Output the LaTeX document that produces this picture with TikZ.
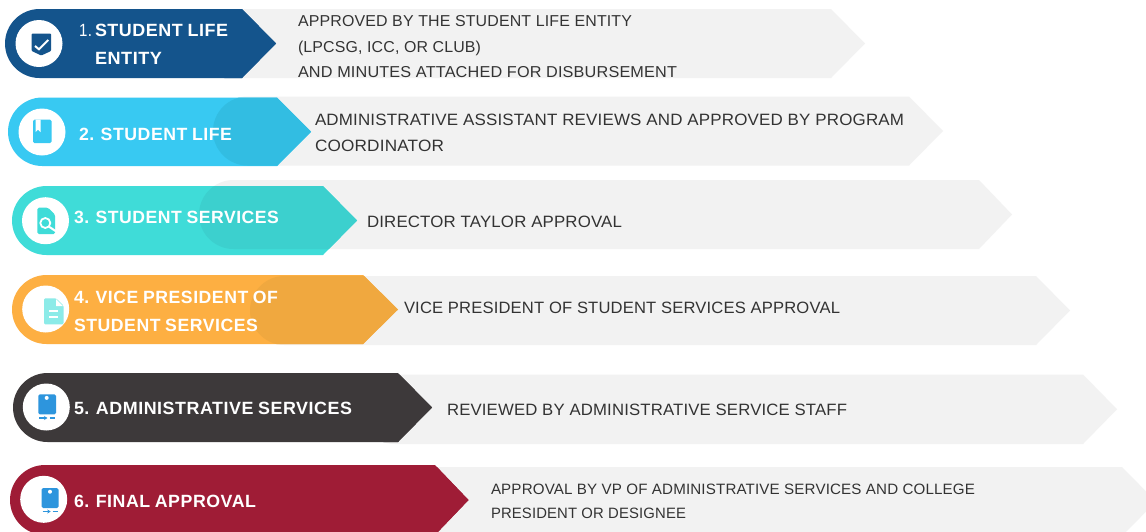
\documentclass[tikz,border=0pt]{standalone}
\usepackage{graphicx}
\usepackage{fontspec}
\usetikzlibrary{arrows.meta}
\setmainfont{Liberation Sans}
\newfontfamily\labfont[LetterSpace=3,WordSpace=0.85]{Liberation Sans}
\newfontfamily\bodyfont[LetterSpace=1]{Liberation Sans}
\definecolor{greyband}{HTML}{F2F2F2}
\definecolor{bodyink}{HTML}{333333}
\definecolor{cNavy}{HTML}{14548C}
\definecolor{cSky}{HTML}{38C9F2}
\definecolor{oSky}{HTML}{32BDE2}
\definecolor{cTeal}{HTML}{3FDCD8}
\definecolor{oTeal}{HTML}{3CD0CE}
\definecolor{cOrange}{HTML}{FDAF42}
\definecolor{oOrange}{HTML}{F0A83F}
\definecolor{cDark}{HTML}{3D393A}
\definecolor{cRed}{HTML}{9F1C36}
\definecolor{iconBlue}{HTML}{2D95DD}
\definecolor{iconPale}{HTML}{8CEBE8}
\newcommand\fitw[2]{\resizebox{#1pt}{\height}{#2}}
\newcommand\mkpath[6]{%
  \pgfmathsetmacro\rr{(#4-#3)/2}%
  \pgfmathsetmacro\kk{0.55*\rr}%
  \pgfmathsetmacro\mm{(#3+#4)/2}%
  \pgfmathsetmacro\aa{#2+\rr}%
  \pgfmathsetmacro\bb{#2+\rr-\kk}%
  \pgfmathsetmacro\cc{\mm-\kk}%
  \pgfmathsetmacro\dd{\mm+\kk}%
  \edef#1{(\aa,#3) -- (#5,#3) -- (#6,\mm) -- (#5,#4) -- (\aa,#4)
    .. controls (\bb,#4) and (#2,\dd) .. (#2,\mm)
    .. controls (#2,\cc) and (\bb,#3) .. (\aa,#3) -- cycle}%
}
\newcommand\band[2]{%
  \fill[greyband] \greyp;
  \fill[#1] \colp;
  \begin{scope}
    \clip \colp;
    \fill[#2] \greyp;
  \end{scope}
}
\tikzset{
  lab/.style={anchor=base west,inner sep=0pt,outer sep=0pt,text=white,font=\labfont\bfseries\fontsize{17.7}{20}\selectfont},
  labthin/.style={lab,font=\labfont\fontsize{17.7}{20}\selectfont},
  body/.style={anchor=base west,inner sep=0pt,outer sep=0pt,text=bodyink,font=\bodyfont\fontsize{16.4}{19}\selectfont},
  bodyone/.style={body,font=\bodyfont\fontsize{15.8}{19}\selectfont},
  bodysix/.style={body,font=\bodyfont\fontsize{15}{17}\selectfont},
  disc/.style={circle,fill=white,minimum size=47pt,inner sep=0pt,outer sep=0pt}
}
\begin{document}
\begin{tikzpicture}[x=1pt,y=-1pt]
\useasboundingbox (0,0) rectangle (1146,531);
\clip (0,0) rectangle (1146,531);
\fill[white] (0,0) rectangle (1146,531);
% row bands
\mkpath\greyp{190}{9}{78}{831}{865}\mkpath\colp{5}{9}{78}{242}{276}
\band{cNavy}{cNavy}
\mkpath\greyp{213}{96.5}{165.5}{909}{943}\mkpath\colp{8}{97.5}{166}{277}{311}
\band{cSky}{oSky}
\mkpath\greyp{199}{180}{249}{979}{1012}\mkpath\colp{12}{186}{255}{323}{357}
\band{cTeal}{oTeal}
\mkpath\greyp{250}{276}{345}{1036}{1070}\mkpath\colp{12}{275}{344}{363}{398}
\band{cOrange}{oOrange}
\mkpath\greyp{360}{374.5}{444}{1083}{1117}\mkpath\colp{13}{373}{442}{398}{432}
\band{cDark}{cDark}
\mkpath\greyp{400}{467}{536}{1122}{1156}\mkpath\colp{10}{465}{535}{435}{468.5}
\band{cRed}{cRed}
% discs
\node[disc] (d1) at (39,43.5) {};
\node[disc] (d2) at (42,132) {};
\node[disc] (d3) at (45.5,220.7) {};
\node[disc] (d4) at (45.7,309) {};
\node[disc] (d5) at (46.3,407) {};
\node[disc] (d6) at (43.7,499.3) {};
% icon 1: shield
\fill[cNavy,rounded corners=0.8pt] (31.7,33.5) -- (51,33.5) -- (51,51) -- (41.3,55.5) -- (31.7,51) -- cycle;
\draw[white,line width=2pt] (35,46) -- (39,49.3) -- (48.3,40);
% icon 2: book
\fill[cSky,rounded corners=1.5pt] (33,119.5) rectangle (51.5,143);
\fill[white] (35.5,119.5) -- (40.5,119.5) -- (40.5,132) -- (38,129.5) -- (35.5,132) -- cycle;
% icon 3: document with lens
\fill[cTeal,rounded corners=1.5pt] (37.3,207.7) -- (48,207.7) -- (55,214.5) -- (55,234) -- (37.3,234) -- cycle;
\draw[white,line width=1.8pt] (45.3,223) circle (5pt);
\draw[white,line width=2pt] (49,226.7) -- (57,232);
% icon 4: document
\fill[iconPale,rounded corners=1.2pt] (44,298.3) -- (56,298.3) -- (63.5,305.5) -- (63.5,324.3) -- (44,324.3) -- cycle;
\fill[white] (56,299) -- (56,306) -- (63,306) -- cycle;
\fill[white] (49.3,310) rectangle (58.3,312);
\fill[white] (49.3,316) rectangle (58.3,318);
% icon 5: device
\fill[iconBlue,rounded corners=1.5pt] (38.3,394.3) rectangle (56,414.3);
\fill[white] (46.7,397.9) circle (2pt);
\draw[iconBlue,line width=1.2pt,-{Stealth[length=3.5pt,width=4pt]}] (39.3,418) -- (47.5,418);
\draw[iconBlue,line width=1.2pt] (49.5,418) -- (55,418);
% icon 6: device
\fill[iconBlue,rounded corners=1.5pt] (41.7,488) rectangle (58.5,508);
\fill[white] (50,491.7) circle (2pt);
\draw[iconBlue,line width=1.2pt,-{Stealth[length=3.5pt,width=4pt]}] (42.5,511.5) -- (50.7,511.5);
\draw[iconBlue,line width=1.2pt] (52.5,511.5) -- (58,511.5);
% labels
\node[labthin] (l1n) at (79,36.5) {\fitw{13}{1.}};
\node[lab] (l1a) at (95,36.5) {\fitw{133}{STUDENT LIFE}};
\node[lab] (l1b) at (95,64.5) {\fitw{67}{ENTITY}};
\node[lab] (l2) at (79,140.5) {\fitw{153}{2. STUDENT LIFE}};
\node[lab] (l3) at (74,223.5) {\fitw{205}{3. STUDENT SERVICES}};
\node[lab] (l4a) at (74,303.5) {\fitw{204}{4. VICE PRESIDENT OF}};
\node[lab] (l4b) at (74,331.5) {\fitw{184}{STUDENT SERVICES}};
\node[lab] (l5) at (74,414.5) {\fitw{278}{5. ADMINISTRATIVE SERVICES}};
\node[lab] (l6) at (74,507.5) {\fitw{182}{6. FINAL APPROVAL}};
% descriptions
\node[bodyone] (b1a) at (298,26) {\fitw{334}{APPROVED BY THE STUDENT LIFE ENTITY}};
\node[bodyone] (b1b) at (298,52) {\fitw{183}{(LPCSG, ICC, OR CLUB)}};
\node[bodyone] (b1c) at (298,77) {\fitw{379}{AND MINUTES ATTACHED FOR DISBURSEMENT}};
\node[body] (b2a) at (315,125) {\fitw{589}{ADMINISTRATIVE ASSISTANT REVIEWS AND APPROVED BY PROGRAM}};
\node[body] (b2b) at (315,151) {\fitw{129}{COORDINATOR}};
\node[body] (b3) at (367,227) {\fitw{255}{DIRECTOR TAYLOR APPROVAL}};
\node[body] (b4) at (404,313) {\fitw{436}{VICE PRESIDENT OF STUDENT SERVICES APPROVAL}};
\node[body] (b5) at (447,415) {\fitw{400}{REVIEWED BY ADMINISTRATIVE SERVICE STAFF}};
\node[bodysix] (b6a) at (491,494.5) {\fitw{484}{APPROVAL BY VP OF ADMINISTRATIVE SERVICES AND COLLEGE}};
\node[bodysix] (b6b) at (491,518.5) {\fitw{195}{PRESIDENT OR DESIGNEE}};
\end{tikzpicture}
\end{document}
